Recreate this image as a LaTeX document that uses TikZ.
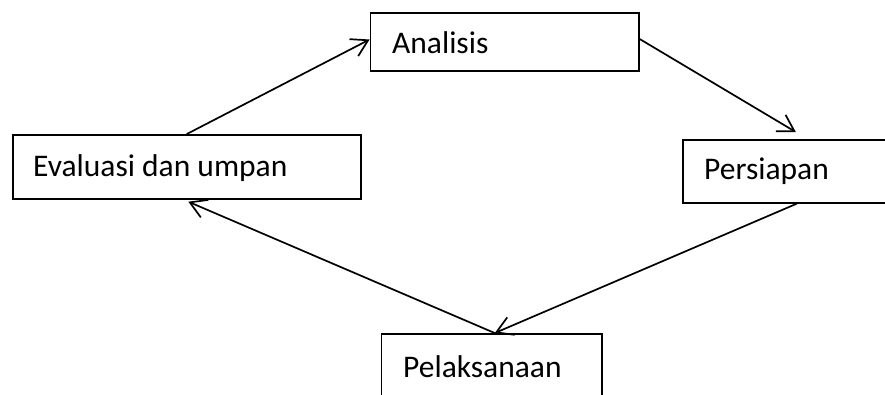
\documentclass[tikz,border=0pt]{standalone}
\usepackage{fontspec}
\setmainfont{Carlito}
\usetikzlibrary{arrows.meta}
\tikzset{
  box/.style={draw=black, line width=1.9pt, rectangle, inner sep=0pt},
  lbl/.style={anchor=base west, inner sep=0pt, font=\fontsize{31.5}{36}\selectfont},
  arr/.style={line width=1.7pt, -{Straight Barb[length=16pt, width=19pt, line width=1.7pt]}}
}
\begin{document}
\begin{tikzpicture}[x=1pt, y=-1pt]
  \useasboundingbox (0,0) rectangle (885,395);
  \clip (0,0) rectangle (885,395);
  % boxes
  \node[box, minimum width=268.2pt, minimum height=58pt] (ana) at (504.6,42) {};
  \node[box, minimum width=348pt, minimum height=64.3pt] (eva) at (186.7,167.2) {};
  \node[box, minimum width=212.3pt, minimum height=62.7pt] (per) at (788.85,171.35) {};
  \node[box, minimum width=220.5pt, minimum height=71pt] (pel) at (491.75,369.5) {};
  % labels
  \node[lbl] (tana) at (392,54) {Analisis};
  \node[lbl] (teva) at (33,177) {Evaluasi dan umpan};
  \node[lbl] (tper) at (704,180) {Persiapan};
  \node[lbl] (tpel) at (403,377) {Pelaksanaan};
  % connectors
  \draw[arr] (eva.north) -- ([yshift=2.5pt]ana.west);
  \draw[arr] ([yshift=3pt]ana.east) -- ([xshift=7pt,yshift=7pt]per.north);
  \draw[arr] ([xshift=8pt]per.south) -- ([xshift=3pt]pel.north);
  \draw[arr] ([xshift=3pt]pel.north) -- ([xshift=1.6pt,yshift=-1.4pt]eva.south);
\end{tikzpicture}
\end{document}
